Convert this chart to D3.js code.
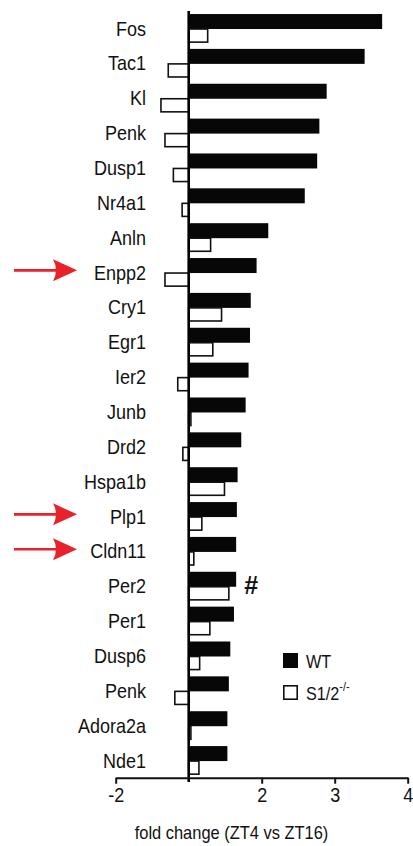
<!DOCTYPE html>
<html>
<head>
<meta charset="utf-8">
<script src="https://cdn.jsdelivr.net/npm/d3@7"></script>
<style>
  body { margin: 0; background: #fff; }
  svg { display: block; font-family: "Liberation Sans", Arial, sans-serif; }
</style>
</head>
<body>
<div id="chart"></div>
<script>
// genes, top to bottom (Penk appears twice)
const genes = ['Fos','Tac1','Kl','Penk','Dusp1','Nr4a1','Anln','Enpp2','Cry1','Egr1','Ier2',
  'Junb','Drd2','Hspa1b','Plp1','Cldn11','Per2','Per1','Dusp6','Penk','Adora2a','Nde1'];
// bar ends on the axis scale (bars start at 1 = no change)
const wt  = [3.65,3.41,2.89,2.79,2.76,2.59,2.09,1.93,1.85,1.84,1.82,
  1.78,1.72,1.67,1.66,1.65,1.65,1.62,1.57,1.55,1.53,1.53];
const ko  = [1.26,0.72,0.62,0.675,0.79,0.91,1.30,0.675,1.45,1.33,0.85,
  1.03,0.92,1.49,1.18,1.07,1.55,1.29,1.15,0.81,1.03,1.14];
const series = ['WT','S1/2'];
const tickVals = [0, 2, 3, 4];
const tickLabels = ['-2', '2', '3', '4'];
const marked = ['Enpp2','Plp1','Cldn11'];   // red arrows
const hashGene = 'Per2';

const width = 413, height = 846;
const base = 1;
const squeeze = 0.9;   // source type looks a bit tall & narrow

const svg = d3.select('#chart').append('svg')
  .attr('width', width)
  .attr('height', height);

const x = d3.scaleLinear().domain([0, 4]).range([115.7, 407.7]);
const idx = genes.map((g, i) => i);
const y = d3.scaleBand().domain(idx).range([10.9, 777.8])
  .paddingInner(0.18).paddingOuter(0.09);
const ySub = d3.scaleBand().domain(series).range([0, y.bandwidth()]);

const rows = idx.map(i => ({i, gene: genes[i], wt: wt[i], ko: ko[i]}));

// -------- bars --------
const row = svg.append('g')
  .selectAll('g')
  .data(rows)
  .enter().append('g')
    .attr('transform', d => `translate(0,${y(d.i)})`);

row.append('rect')
  .attr('x', d => x(Math.min(base, d.wt)))
  .attr('y', ySub('WT'))
  .attr('width', d => Math.abs(x(d.wt) - x(base)))
  .attr('height', ySub.bandwidth() + 0.7)
  .attr('fill', '#070707');

row.append('rect')
  .attr('x', d => x(Math.min(base, d.ko)))
  .attr('y', ySub('S1/2') + 0.7)
  .attr('width', d => Math.max(1, Math.abs(x(d.ko) - x(base))))
  .attr('height', ySub.bandwidth() - 1.2)
  .attr('fill', '#fff')
  .attr('stroke', '#111')
  .attr('stroke-width', 1.6);

// -------- gene labels --------
svg.append('g')
  .attr('font-size', 20)
  .attr('fill', '#111')
  .attr('text-anchor', 'end')
  .selectAll('text')
  .data(rows)
  .enter().append('text')
    .attr('transform', d => `translate(146,${y(d.i) + y.bandwidth() / 2}) scale(${squeeze},1)`)
    .attr('dy', '0.36em')
    .text(d => d.gene);

// -------- zero (fold change 1) line --------
svg.append('line')
  .attr('x1', x(base)).attr('x2', x(base))
  .attr('y1', 11).attr('y2', 782)
  .attr('stroke', '#000')
  .attr('stroke-width', 2.6);

// -------- x axis --------
const axisY = 777.7;
const xAxis = d3.axisBottom(x)
  .tickValues(tickVals)
  .tickFormat((d, i) => tickLabels[i])
  .tickSize(6)
  .tickSizeOuter(0)
  .tickPadding(4);

const ax = svg.append('g')
  .attr('transform', `translate(0,${axisY})`)
  .call(xAxis);
ax.select('.domain').attr('stroke', '#111').attr('stroke-width', 2);
ax.selectAll('.tick line').attr('stroke', '#111').attr('stroke-width', 2);
ax.selectAll('.tick text')
  .attr('font-size', 20)
  .attr('font-family', '"Liberation Sans", Arial, sans-serif')
  .attr('fill', '#111')
  .attr('transform', `scale(${squeeze},1)`);

svg.append('text')
  .attr('transform', `translate(231.5,839) scale(0.94,1)`)
  .attr('text-anchor', 'middle')
  .attr('font-size', 17.5)
  .attr('fill', '#111')
  .text('fold change (ZT4 vs ZT16)');

// -------- red arrows --------
const arrow = svg.append('g')
  .selectAll('g')
  .data(rows.filter(d => marked.includes(d.gene)))
  .enter().append('g')
    .attr('transform', d => `translate(0,${y(d.i) + y.bandwidth() / 2 - 2})`);
arrow.append('line')
  .attr('x1', 14).attr('x2', 62)
  .attr('y1', 0).attr('y2', 0)
  .attr('stroke', '#e8212b')
  .attr('stroke-width', 2.6);
arrow.append('path')
  .attr('d', 'M77,0 L53,-11 Q59,0 53,11 Z')
  .attr('fill', '#e8212b');

// -------- significance mark --------
const hashRow = rows.find(d => d.gene === hashGene);
svg.append('text')
  .attr('x', x(hashRow.wt) + 8)
  .attr('y', y(hashRow.i) + y.bandwidth() / 2 - 1)
  .attr('dy', '0.35em')
  .attr('font-size', 25)
  .attr('font-weight', 'bold')
  .attr('fill', '#111')
  .text('#');

// -------- legend --------
const legend = svg.append('g')
  .attr('transform', 'translate(283,653)');
const li = legend.selectAll('g')
  .data(series)
  .enter().append('g')
    .attr('transform', (d, i) => `translate(0,${i * 32})`);
li.append('rect')
  .attr('x', d => d === 'WT' ? 0 : 0.8)
  .attr('y', d => d === 'WT' ? 0 : 0.8)
  .attr('width', d => d === 'WT' ? 15 : 13.4)
  .attr('height', d => d === 'WT' ? 15 : 13.4)
  .attr('fill', d => d === 'WT' ? '#070707' : '#fff')
  .attr('stroke', d => d === 'WT' ? 'none' : '#111')
  .attr('stroke-width', 1.6);
const lt = li.append('text')
  .attr('transform', `translate(23,9) scale(${squeeze},1)`)
  .attr('dy', '0.36em')
  .attr('font-size', 18)
  .attr('fill', '#111')
  .text(d => d);
lt.filter(d => d !== 'WT').append('tspan')
  .attr('font-size', 12)
  .attr('dy', '-0.8em')
  .text('-/-');
</script>
</body>
</html>
